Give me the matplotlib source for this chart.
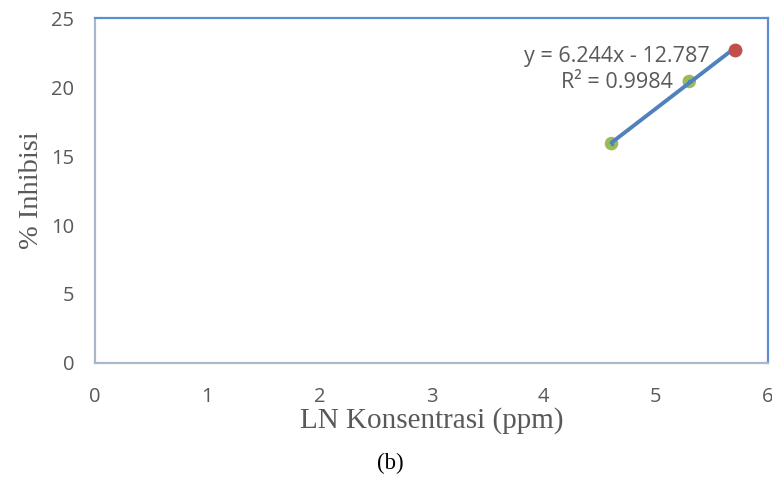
import numpy as np
import matplotlib
matplotlib.use("Agg")
import matplotlib.pyplot as plt

# data
ln_conc = [4.605, 5.298, 5.704]
inhibisi = [15.9, 20.4, 22.7]
point_colors = ["#9BBB59", "#9BBB59", "#C0504D"]
slope, intercept = 6.244, -12.787
r2 = 0.9984
x_ticks = [0, 1, 2, 3, 4, 5, 6]
y_ticks = [0, 5, 10, 15, 20, 25]

fig = plt.figure(figsize=(7.72, 4.78), dpi=100)
ax = fig.add_axes([0.123, 0.2406, 0.8718, 0.7217])

# green points sit under the trendline, the last (red) one on top of it
ax.scatter(ln_conc[:-1], inhibisi[:-1], s=95, c=point_colors[:-1], zorder=2,
           linewidths=0)
xs = np.array([ln_conc[0], ln_conc[-1]])
ax.plot(xs, slope * xs + intercept, color="#4F81BD", lw=2.8, zorder=3,
        solid_capstyle="round")
ax.scatter(ln_conc[:-1], inhibisi[:-1], s=6, c="#4F81BD", zorder=4, linewidths=0)
ax.scatter(ln_conc[-1:], inhibisi[-1:], s=100, c=point_colors[-1:], zorder=5,
           linewidths=0)

ax.set_xlim(0, 6)
ax.set_ylim(0, 25)
ax.set_xticks(x_ticks)
ax.set_yticks(y_ticks)
ax.tick_params(length=0, labelsize=14.5, labelcolor="#595959")
ax.tick_params(axis="x", pad=17)
ax.tick_params(axis="y", pad=15)
for lab in ax.get_xticklabels() + ax.get_yticklabels():
    lab.set_family("Open Sans")

for side in ("left", "bottom"):
    ax.spines[side].set_color("#A9B7CB")
    ax.spines[side].set_linewidth(1.6)
for side in ("top", "right"):
    ax.spines[side].set_color("#5B8FD0")
    ax.spines[side].set_linewidth(1.6)

ax.set_xlabel("LN Konsentrasi (ppm)", family="Liberation Serif", fontsize=21,
              color="#595959", labelpad=0)
ax.set_ylabel("% Inhibisi", family="Liberation Serif", fontsize=20.5,
              color="#595959", labelpad=5)

eq = f"y = {slope}x - {abs(intercept)}"
ax.text(5.483, 22.2, eq, ha="right", va="center", family="Open Sans",
        fontsize=15.5, color="#595959")
ax.text(5.153, 20.3, f"R² = {r2}", ha="right", va="center", family="Open Sans",
        fontsize=15.5, color="#595959")

fig.text(0.505, 0.031, "(b)", ha="center", va="center",
         family="Liberation Serif", fontsize=16.5, color="black")

fig.savefig("out.png", dpi=100)
